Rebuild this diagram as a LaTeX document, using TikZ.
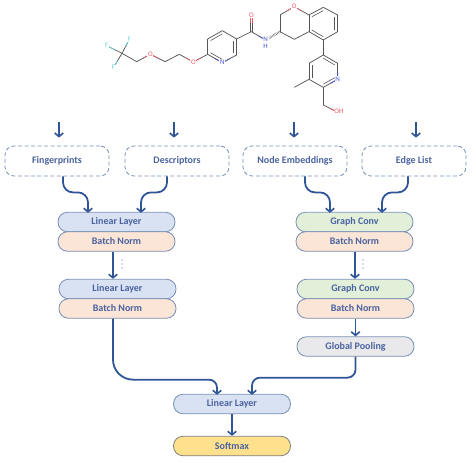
\documentclass[tikz,border=0pt]{standalone}
\usepackage{fontspec}
\setmainfont{Carlito}
\usepackage{tikz}
\usetikzlibrary{arrows.meta,positioning,calc}
\definecolor{flowblue}{HTML}{2F5597}
\definecolor{labelblue}{HTML}{4A629F}
\definecolor{edgeblue}{HTML}{7A8FB5}
\definecolor{linfill}{HTML}{D9E2F3}
\definecolor{normfill}{HTML}{FBE5D6}
\definecolor{convfill}{HTML}{E2F0D9}
\definecolor{poolfill}{HTML}{E9E9EC}
\definecolor{softfill}{HTML}{FFE08C}
\definecolor{bondgray}{HTML}{555555}
\definecolor{atomred}{HTML}{EE5A6A}
\definecolor{atomblue}{HTML}{4A55D8}
\definecolor{atomcyan}{HTML}{6FD6D6}
\tikzset{
  layerbox/.style={draw=edgeblue,line width=0.8pt,rounded corners=9.5pt,minimum width=117pt,
    minimum height=19.5pt,inner sep=0pt,text=labelblue,font=\fontsize{10}{11}\selectfont\bfseries},
  inputbox/.style={draw=edgeblue,line width=0.8pt,dash pattern=on 4pt off 2.5pt,rounded corners=9pt,minimum width=104pt,
    minimum height=30pt,inner sep=0pt,text=labelblue,font=\fontsize{10}{11}\selectfont\bfseries},
  flow/.style={draw=flowblue,line width=1.8pt,-{Straight Barb[length=3.5pt,width=8.5pt,line width=1.6pt]}},
  bond/.style={draw=bondgray,line width=0.75pt},
  atom/.style={fill=white,inner sep=0.6pt,font=\fontsize{7}{7}\selectfont},
}
\begin{document}
\begin{tikzpicture}[x=1pt,y=-1pt]
  \useasboundingbox (0,0) rectangle (474,463);

  % molecule
  \begin{scope}[shift={(90,0)},x=0.3333pt,y=-0.3333pt]
    \foreach \n/\px/\py in {f1/50/137,f2/118/118,f3/70/203,cf/96/160,e1/140/185,o1/181/163,e2/225/185,e3/268/163,
        o2/310/186,p1/353/163,p2/353/117,p3/397/92,p4/440/117,p5/440/165,n1/397/188,
        co/484/95,o3/484/45,n2/527/120,c1/570/95,c2/570/45,o4/613/20,c3/657/45,c4/657/95,c5/613/118,
        b1/700/22,b2/743/45,b3/743/95,b4/700/120,
        q1/700/165,q2/743/190,n3/743/238,q3/700/262,q4/657/238,q5/657/190,m1/613/262,h1/700/315,o5/740/335,
        r1/397/140,r2/700/71,r3/700/214}{
      \coordinate (\n) at (\px,\py);
    }
    \foreach \a/\b in {cf/e1,e2/e3,p1/p2,p2/p3,p3/p4,p4/p5,p4/co,c1/c2,c3/c4,c4/c5,c5/c1,
        c3/b1,b1/b2,b2/b3,b3/b4,b4/c4,b4/q1,q1/q2,q1/q5,q5/q4,q4/q3,q4/m1,q3/h1}{
      \draw[bond] (\a)--(\b);
    }
    % bonds to hetero atoms
    \foreach \a/\b/\c in {f1/cf/atomcyan,f2/cf/atomcyan,f3/cf/atomcyan,o1/e1/atomred,o1/e2/atomred,o2/e3/atomred,
        o2/p1/atomred,n1/p5/atomblue,n1/p1/atomblue,n2/co/atomblue,o4/c2/atomred,o4/c3/atomred,
        n3/q2/atomblue,n3/q3/atomblue,o5/h1/atomred}{
      \draw[bond] (\a)--(\b);
      \draw[bond,draw=\c] (\a)--($(\a)!0.5!(\b)$);
    }
    % inner ring lines
    \foreach \a/\b/\m in {p2/p3/r1,p4/p5/r1,n1/p1/r1,c3/b1/r2,b2/b3/r2,b4/c4/r2,q1/q2/r3,n3/q3/r3,q4/q5/r3}{
      \draw[bond,line width=0.6pt] ($(\a)!0.2!(\m)$)--($(\b)!0.2!(\m)$);
    }
    \draw[bond] ([xshift=-1.3pt]co)--([xshift=-1.3pt]o3);
    \draw[bond] ([xshift=1.3pt]co)--([xshift=1.3pt]o3);
    \draw[bond,draw=atomred] ([xshift=-1.3pt]o3)--([xshift=-1.3pt]$(o3)!0.5!(co)$);
    \draw[bond,draw=atomred] ([xshift=1.3pt]o3)--([xshift=1.3pt]$(o3)!0.5!(co)$);
    \draw[draw=bondgray,line width=2.4pt,dash pattern=on 0.4pt off 1pt] (c1)--(n2);
    \node[atom,text=atomcyan] (lf1) at (f1) {F};
    \node[atom,text=atomcyan] (lf2) at (f2) {F};
    \node[atom,text=atomcyan] (lf3) at (f3) {F};
    \node[atom,text=atomred] (lo1) at (o1) {O};
    \node[atom,text=atomred] (lo2) at (o2) {O};
    \node[atom,text=atomred] (lo3) at (o3) {O};
    \node[atom,text=atomred] (lo4) at (o4) {O};
    \node[atom,text=atomblue] (ln1) at (n1) {N};
    \node[atom,text=atomblue] (ln3) at (n3) {N};
    \node[atom,text=atomblue,align=center] (ln2) at (527,127) {N\\H};
    \node[atom,text=atomred] (lo5) at (747,335) {OH};
  \end{scope}

  % inputs
  \node[inputbox] (fp) at (57,161) {Fingerprints};
  \node[inputbox] (ds) at (177,161) {Descriptors};
  \node[inputbox] (ne) at (295,161) {Node Embeddings};
  \node[inputbox] (el) at (414,161) {Edge List};

  % left branch
  \node[layerbox,fill=linfill] (lin1) at (116.5,222) {Linear Layer};
  \node[layerbox,fill=normfill] (bn1) at (116.5,241.5) {Batch Norm};
  \node[layerbox,fill=linfill] (lin2) at (117.5,289) {Linear Layer};
  \node[layerbox,fill=normfill] (bn2) at (117.5,308.5) {Batch Norm};

  % right branch
  \node[layerbox,fill=convfill] (gc1) at (354.5,222) {Graph Conv};
  \node[layerbox,fill=normfill] (bn3) at (354.5,241.5) {Batch Norm};
  \node[layerbox,fill=convfill] (gc2) at (355.5,289) {Graph Conv};
  \node[layerbox,fill=normfill] (bn4) at (355.5,308.5) {Batch Norm};
  \node[layerbox,fill=poolfill] (gp) at (355.5,346.5) {Global Pooling};

  % output
  \node[layerbox,fill=linfill] (lin3) at (232,404) {Linear Layer};
  \node[layerbox,fill=softfill,draw=gray] (sm) at (232,446) {Softmax};

  % dots between the repeated layers
  \foreach \px in {122,363}{
    \foreach \py in {260,264,268}{
      \fill[labelblue] (\px,\py) circle (0.7pt);
    }
  }

  \foreach \n/\px in {fp/59,ds/174,ne/294,el/416}{
    \coordinate (in\n) at (\px,122);
    \draw[flow,shorten >=8pt] (in\n)--(in\n |- \n.north);
  }

  \draw[flow,rounded corners=10pt] ([xshift=6pt]fp.south)--++(0,16)-|([xshift=-28.5pt,yshift=-1pt]lin1.north);
  \draw[flow,rounded corners=10pt] ([xshift=-10pt]ds.south)--++(0,16)-|([xshift=24.5pt,yshift=-1pt]lin1.north);
  \draw[flow,rounded corners=10pt] ([xshift=10pt]ne.south)--++(0,16)-|([xshift=-24.5pt,yshift=-1pt]gc1.north);
  \draw[flow,rounded corners=10pt] ([xshift=-6pt]el.south)--++(0,16)-|([xshift=27.5pt,yshift=-1pt]gc1.north);

  \draw[flow] ([xshift=-3.5pt]bn1.south)--([xshift=-4.5pt]lin2.north);
  \draw[flow] ([xshift=0.5pt]bn3.south)--([xshift=-0.5pt]gc2.north);
  \draw[flow] (bn4.south)--(gp.north);

  \draw[flow] ([xshift=-4.5pt]bn2.south)[rounded corners=20pt]--++(0,61)[rounded corners=8pt]-|([xshift=-15pt,yshift=-1pt]lin3.north);
  \draw[flow,rounded corners=8pt] (gp.south)--++(0,21)-|([xshift=20pt,yshift=-1pt]lin3.north);
  \draw[flow] (lin3)--(sm);
\end{tikzpicture}
\end{document}
